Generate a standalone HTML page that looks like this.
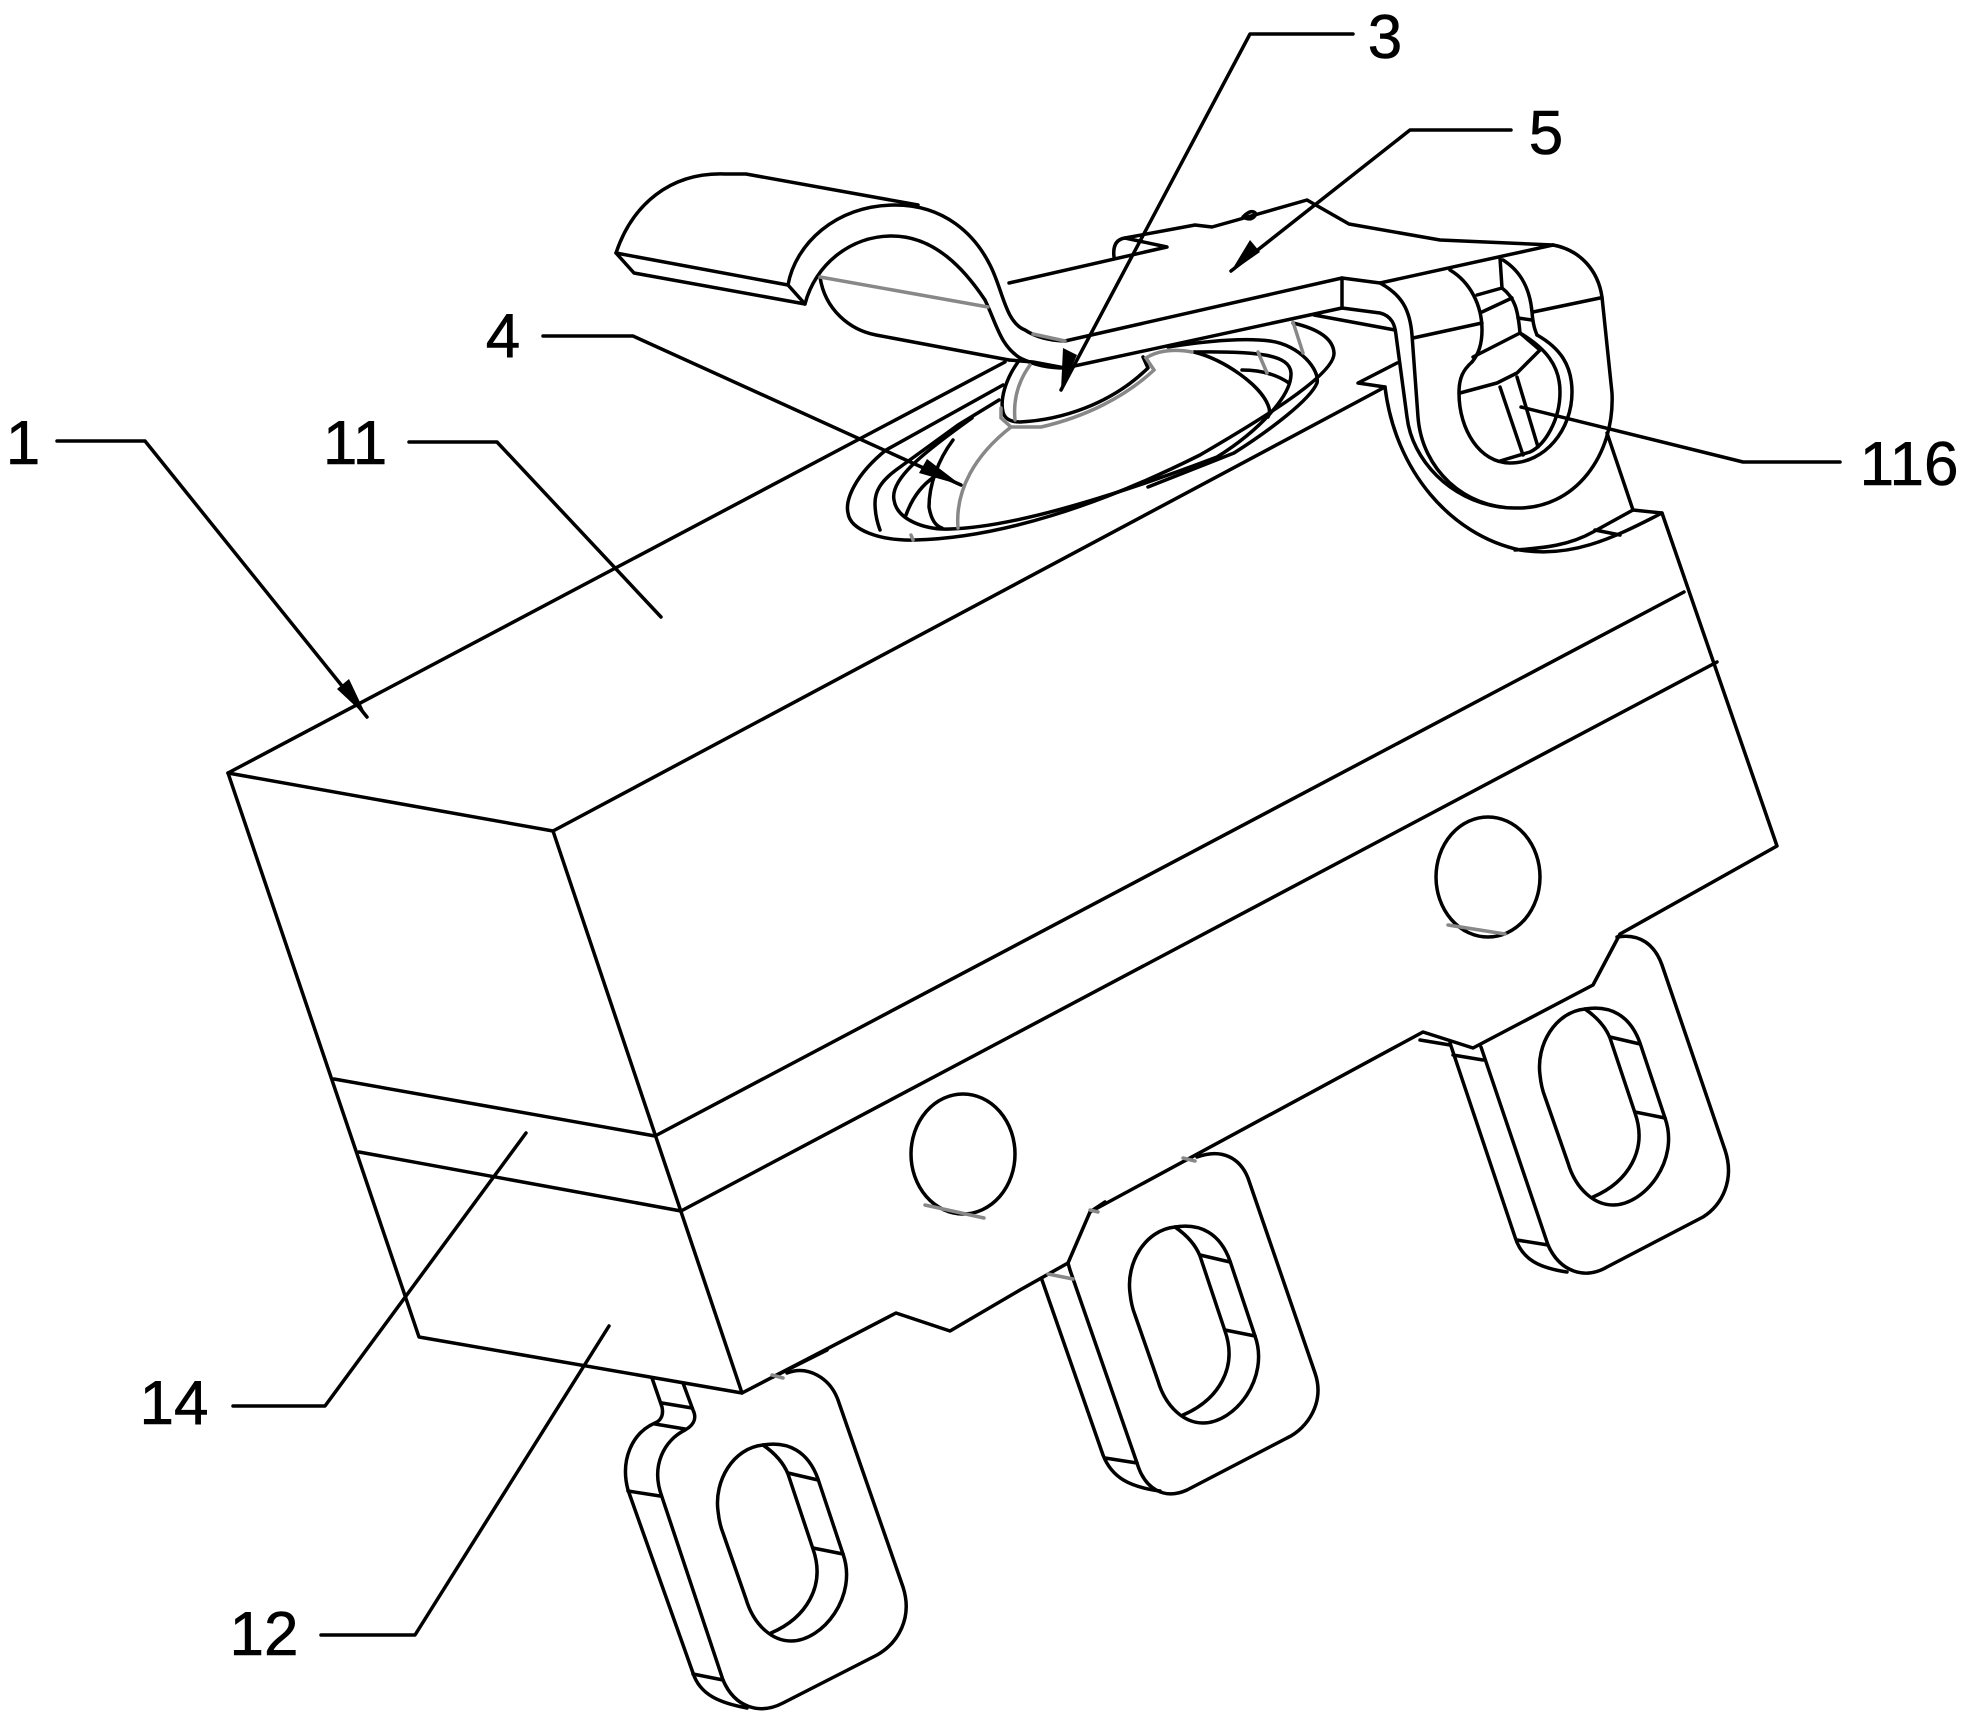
<!DOCTYPE html>
<html><head><meta charset="utf-8"><style>
html,body{margin:0;padding:0;background:#fff;width:1970px;height:1722px;overflow:hidden}
svg{display:block}
text{font-family:"Liberation Sans",Arial,sans-serif;font-size:62px;fill:#000;stroke:#000;stroke-width:.6px;text-anchor:middle}
</style></head><body>
<svg width="1970" height="1722" viewBox="0 0 1970 1722" xmlns="http://www.w3.org/2000/svg">
<rect width="1970" height="1722" fill="#fff"/>
<defs>
<g id="slot">
<path d="M1585 1009 C1555 1012 1536 1045 1540 1075 C1541 1085 1543 1092 1545 1097 L1568 1163 C1576 1190 1595 1205 1613 1205 C1645 1205 1680 1160 1665 1118 L1640 1043 C1630 1015 1610 1005 1585 1009 Z"/>
<path d="M1585 1009 C1598 1018 1606 1028 1610 1038 L1635 1113 C1648 1150 1628 1182 1593 1197"/>
<path d="M1610 1037 L1640 1044 M1635 1112 L1665 1118"/>
</g>
</defs>
<g fill="none" stroke="#000" stroke-width="3.5" stroke-linejoin="round" stroke-linecap="round">
<!-- body -->
<path d="M228 773 L1005 362"/>
<path d="M228 773 L553 831 L1385 387 L1358 383 L1397 363"/>
<path d="M228 773 L419 1337 L742 1393 L896 1313 L950 1331 L1020 1290 L1068 1263"/>
<path d="M553 831 L742 1393"/>
<path d="M334 1079 L655 1136 L1684 592"/>
<path d="M359 1152 L681 1211 L1717 662"/>
<path d="M1662 513 L1777 846 L1620 934 L1593 985 L1473 1048 L1423 1032 L1090 1212"/>
<path d="M1420 1040 L1450 1045"/>
<path d="M773 1377 L827 1350"/>
<!-- body circles -->
<ellipse cx="1488" cy="877" rx="52" ry="60"/>
<ellipse cx="963" cy="1154" rx="52" ry="60"/>
<!-- terminals -->
<use href="#slot"/>
<use href="#slot" transform="translate(-410 218)"/>
<use href="#slot" transform="translate(-822 436)"/>
<path d="M1617 937 C1640 933 1655 945 1662 965 L1725 1150 C1735 1180 1722 1205 1703 1217 L1607 1267 C1585 1280 1560 1272 1548 1245 L1481 1047"/>
<path d="M1450 1043 L1515 1237 C1522 1260 1540 1268 1567 1272 M1453 1055 L1483 1060 M1517 1240 L1548 1245"/>
<path d="M1197 1157 C1222 1148 1240 1158 1248 1178 L1315 1373 C1325 1402 1308 1428 1287 1438 L1187 1490 C1165 1500 1145 1490 1137 1463 L1070 1270 L1068 1263 L1090 1212 L1105 1202"/>
<path d="M1042 1280 L1103 1455 C1112 1478 1130 1487 1160 1491 M1105 1458 L1137 1463"/>
<path d="M787 1373 C808 1365 830 1378 838 1400 L903 1587 C913 1618 898 1643 877 1655 L783 1703 C760 1715 735 1708 723 1680 L662 1497 C650 1465 665 1440 685 1430 C696 1424 696 1416 693 1410 L683 1383"/>
<path d="M652 1378 L662 1407 C664 1416 660 1421 655 1423 C632 1433 620 1460 628 1490 L693 1673 C700 1695 720 1703 747 1708"/>
<path d="M662 1403 L692 1408 M655 1424 L685 1429 M628 1491 L660 1496 M693 1674 L723 1680"/>
<!-- lever -->
<path d="M616 253 L634 273 L805 304 L788 285 L616 253"/>
<path d="M616 253 C632 205 670 172 725 174 L746 174 L918 205"/>
<path d="M788 285 C795 245 835 205 895 205 C945 205 975 235 990 265 C1003 290 1005 322 1025 330 Q1040 340 1065 341"/>
<path d="M805 304 C815 265 850 236 892 236 C935 236 965 270 985 300 C997 325 1000 345 1020 358 Q1040 368 1065 368"/>
<path d="M820 277 C825 310 850 330 876 335 L1009 360"/>
<path d="M1009 283 L1167 247 L1125 238 Q1112 240 1114 257"/>
<path d="M1125 238 L1195 225 L1212 227 L1237 220 L1307 200 L1349 224 L1440 240 L1553 245"/>
<path d="M1243 217 Q1252 208 1256 214 Q1252 222 1243 217Z"/>
<path d="M1065 341 L1342 278 L1380 283 L1553 245"/>
<path d="M1380 283 C1402 295 1410 310 1412 335 L1418 417 C1422 470 1465 508 1515 508 C1575 510 1615 455 1612 393 L1602 297 C1598 270 1580 250 1553 245"/>
<path d="M1065 368 L1342 308 L1380 313 C1392 316 1395 325 1396 335 L1407 417 C1412 460 1450 500 1500 507"/>
<path d="M1342 278 L1342 308"/>
<path d="M1314 315 L1395 330"/>
<path d="M1385 387 C1395 470 1450 535 1520 550 C1570 558 1610 540 1662 513 L1633 510 L1593 532 C1570 545 1545 548 1515 550"/>
<path d="M1607 433 L1633 510 M1595 530 L1620 535"/>
<path d="M1413 338 L1482 323 M1533 312 L1600 298"/>
<path d="M1450 270 C1470 282 1482 305 1482 330 C1482 345 1478 355 1472 362"/>
<path d="M1500 258 L1502 288 C1515 298 1518 310 1520 333"/>
<path d="M1503 260 C1522 272 1530 290 1532 312 C1533 325 1535 330 1537 335"/>
<path d="M1477 295 L1502 288 M1482 312 L1512 298 M1518 318 L1532 320"/>
<!-- hole -->
<path d="M1537 335 C1560 348 1572 365 1572 392 C1572 430 1545 463 1510 463 C1480 463 1459 430 1459 393 C1459 378 1463 370 1472 362"/>
<path d="M1520 333 C1545 348 1560 365 1560 392 C1560 420 1545 445 1530 452 L1500 461"/>
<path d="M1473 357 L1520 333 L1540 350 L1517 373 L1497 383 L1460 393"/>
<path d="M1500 387 L1523 455 M1517 377 L1538 447"/>
<!-- dome -->
<path d="M1003 385 L886 450 C855 475 845 500 848 513 C850 530 880 541 915 540 C1000 538 1100 505 1200 455 C1260 420 1335 375 1334 353 C1333 335 1310 327 1293 323"/>
<path d="M999 400 L958 425 L896 470 C880 482 875 492 875 503 C875 512 877 522 880 530"/>
<path d="M972 418 C920 455 890 480 894 500 C897 520 925 530 950 529 C1020 527 1130 490 1217 457 C1260 430 1292 395 1291 373 C1290 355 1260 351 1194 352"/>
<path d="M953 440 C938 460 929 485 929 507 Q932 525 942 528"/>
<path d="M906 515 Q915 490 934 477"/>
<path d="M1194 352 C1225 360 1260 385 1268 405 Q1271 412 1268 417"/>
<path d="M1242 370 Q1270 370 1289 383"/>
<path d="M1168 347 C1200 342 1240 337 1270 341 C1300 345 1320 370 1317 383 C1310 400 1270 430 1234 453 L1148 487"/>
<path d="M1018 362 C1005 380 1000 400 1003 412 C1005 420 1012 422 1020 422 C1060 420 1110 405 1148 368 L1143 357"/>
<path d="M1009 360 L1033 362 L1065 368"/>
<!-- arrows -->
<path d="M57 441 H145 L367 717"/>
<path d="M409 442 H497 L661 617"/>
<path d="M543 336 H633 L961 485"/>
<path d="M1353 34 H1250 L1061 390"/>
<path d="M1511 130 H1410 L1231 271"/>
<path d="M233 1406 H325 L526 1133"/>
<path d="M321 1635 H415 L609 1326"/>
<path d="M1521 407 L1743 462 H1840"/>
</g>
<g fill="none" stroke="#888" stroke-width="3.5" stroke-linecap="round">
<path d="M820 277 L988 307"/>
<path d="M1033 334 L1065 341"/>
<path d="M958 528 C955 490 975 455 1011 427 L1001 418 L1001 408"/>
<path d="M1011 427 L1041 427 C1085 417 1125 397 1154 370 L1146 358 C1155 352 1170 348 1192 352"/>
<path d="M1030 365 Q1012 390 1015 420"/>
<path d="M1258 352 L1267 373 M1293 322 L1303 353 M911 535 L913 540"/>
<path d="M1448 925 L1505 934 M925 1205 L984 1218"/>
<path d="M1048 1274 L1073 1279 M1090 1210 L1098 1212 M1183 1158 L1195 1161 M772 1375 L783 1378"/>
</g>
<g fill="#000" stroke="none">
<polygon points="367,717 337,689 349,679"/>
<polygon points="1061,390 1063,348 1077,355"/>
<polygon points="961,485 919,473 927,459"/>
<polygon points="1230,273 1250,240 1260,252"/>
</g>
<text x="1385" y="58">3</text>
<text x="1546" y="154">5</text>
<text x="503" y="357">4</text>
<text x="23" y="464">1</text>
<text x="355" y="464">11</text>
<text x="1909" y="485">116</text>
<text x="174" y="1424">14</text>
<text x="264" y="1655">12</text>
</svg>
</body></html>
